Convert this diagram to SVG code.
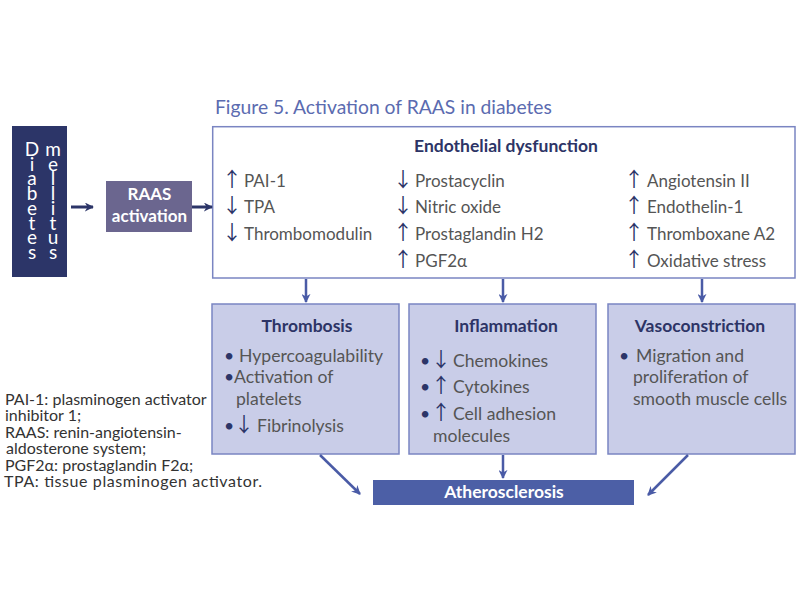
<svg xmlns="http://www.w3.org/2000/svg" width="800" height="600" viewBox="0 0 800 600">
<defs>
<style>
text{font-family:Lato,"Open Sans","Liberation Sans",sans-serif;}
.t{font-size:17px;fill:#555555;}
.t2{font-size:17.6px;fill:#555555;}
.ar{font-family:"Noto Sans CJK JP","DejaVu Sans",sans-serif;fill:#2c3568;font-size:20px;}
.bu{fill:#2c3568;}
.h{font-size:17.5px;font-weight:bold;fill:#2d3466;text-anchor:middle;}
.lg{font-size:16px;fill:#333333;}
.dm{font-size:19px;fill:#ffffff;writing-mode:vertical-rl;text-orientation:upright;letter-spacing:-8.3px;}
.box{fill:#c9cde8;stroke:#7a85c2;stroke-width:1.5;}
.con{stroke:#4a5ba6;stroke-width:2.5;fill:none;marker-end:url(#ah);}
.con2{stroke:#2c3568;stroke-width:3;fill:none;marker-end:url(#ah2);}
</style>
<marker id="ah" viewBox="0 0 10 10" refX="9" refY="5" markerWidth="9" markerHeight="9" markerUnits="userSpaceOnUse" orient="auto">
<path d="M0,0 L10,5 L0,10 L3,5 z" fill="#4a5ba6"/>
</marker>
<marker id="ah2" viewBox="0 0 10 10" refX="9" refY="5" markerWidth="9" markerHeight="9" markerUnits="userSpaceOnUse" orient="auto">
<path d="M0,0 L10,5 L0,10 L3,5 z" fill="#2c3568"/>
</marker>
</defs>
<rect width="800" height="600" fill="#ffffff"/>

<text x="215" y="114" style="font-size:19.3px;fill:#5b6bb0;">Figure 5. Activation of RAAS in diabetes</text>

<g id="diabetes">
<rect x="12" y="126" width="55" height="151" fill="#2c3568"/>
<text class="dm" x="32" y="137">Diabetes</text>
<text class="dm" x="53" y="137">mellitus</text>
</g>

<g id="raas">
<rect x="106" y="181" width="86" height="51" fill="#6b668f"/>
<text x="149.5" y="200" style="font-size:17px;font-weight:bold;fill:#ffffff;text-anchor:middle;">RAAS</text>
<text x="149.5" y="222" style="font-size:17px;font-weight:bold;fill:#ffffff;text-anchor:middle;">activation</text>
</g>

<g id="endothelial">
<rect x="212.7" y="126.7" width="582.3" height="151.3" fill="#ffffff" stroke="#7a85c2" stroke-width="1.5"/>
<text class="h" x="506" y="152">Endothelial dysfunction</text>
<text class="t" x="222" y="186.5"><tspan class="ar">↑</tspan><tspan x="244">PAI-1</tspan></text>
<text class="t" x="222" y="213.2"><tspan class="ar">↓</tspan><tspan x="244">TPA</tspan></text>
<text class="t" x="222" y="239.9"><tspan class="ar">↓</tspan><tspan x="244">Thrombomodulin</tspan></text>
<text class="t" x="393" y="186.5"><tspan class="ar">↓</tspan><tspan x="415">Prostacyclin</tspan></text>
<text class="t" x="393" y="213.2"><tspan class="ar">↓</tspan><tspan x="415">Nitric oxide</tspan></text>
<text class="t" x="393" y="239.9"><tspan class="ar">↑</tspan><tspan x="415">Prostaglandin H2</tspan></text>
<text class="t" x="393" y="266.6"><tspan class="ar">↑</tspan><tspan x="415">PGF2α</tspan></text>
<text class="t" x="624" y="186.5"><tspan class="ar">↑</tspan><tspan x="647">Angiotensin II</tspan></text>
<text class="t" x="624" y="213.2"><tspan class="ar">↑</tspan><tspan x="647">Endothelin-1</tspan></text>
<text class="t" x="624" y="239.9"><tspan class="ar">↑</tspan><tspan x="647">Thromboxane A2</tspan></text>
<text class="t" x="624" y="266.6"><tspan class="ar">↑</tspan><tspan x="647">Oxidative stress</tspan></text>
</g>

<g id="thrombosis">
<rect class="box" x="212" y="304" width="187" height="150"/>
<text class="h" x="307" y="332">Thrombosis</text>
<text class="t2" x="224" y="362"><tspan class="bu">•</tspan><tspan x="239">Hypercoagulability</tspan></text>
<text class="t2" x="224" y="383"><tspan class="bu">•</tspan><tspan x="234">Activation of</tspan></text>
<text class="t2" x="236" y="405">platelets</text>
<text class="t2" x="224" y="432"><tspan class="bu">•</tspan><tspan class="ar" x="234">↓</tspan><tspan x="257">Fibrinolysis</tspan></text>
</g>

<g id="inflammation">
<rect class="box" x="409" y="304" width="187" height="150"/>
<text class="h" x="506" y="332">Inflammation</text>
<text class="t2" x="420" y="367"><tspan class="bu">•</tspan><tspan class="ar" x="431">↓</tspan><tspan x="453">Chemokines</tspan></text>
<text class="t2" x="420" y="393"><tspan class="bu">•</tspan><tspan class="ar" x="431">↑</tspan><tspan x="453">Cytokines</tspan></text>
<text class="t2" x="420" y="420"><tspan class="bu">•</tspan><tspan class="ar" x="431">↑</tspan><tspan x="453">Cell adhesion</tspan></text>
<text class="t2" x="433" y="442">molecules</text>
</g>

<g id="vasoconstriction">
<rect class="box" x="608" y="304" width="187" height="150"/>
<text class="h" x="700" y="332">Vasoconstriction</text>
<text class="t2" x="619" y="362"><tspan class="bu">•</tspan><tspan x="636">Migration and</tspan></text>
<text class="t2" x="633" y="383">proliferation of</text>
<text class="t2" x="633" y="405">smooth muscle cells</text>
</g>

<g id="atherosclerosis">
<rect x="373" y="480" width="261" height="25" fill="#4c5fa6"/>
<text x="504" y="498" style="font-size:17.5px;font-weight:bold;fill:#ffffff;text-anchor:middle;">Atherosclerosis</text>
</g>

<g id="connectors">
<line class="con2" x1="71" y1="207" x2="93" y2="207"/>
<line class="con2" x1="192" y1="207" x2="212" y2="207"/>
<line class="con" x1="306" y1="279" x2="306" y2="302"/>
<line class="con" x1="503" y1="279" x2="503" y2="302"/>
<line class="con" x1="702" y1="279" x2="702" y2="302"/>
<line class="con" x1="503" y1="455" x2="503" y2="478"/>
<line class="con" x1="320" y1="455" x2="360" y2="494"/>
<line class="con" x1="688" y1="455" x2="648" y2="495"/>
</g>

<g id="legend">
<text class="lg" x="5" y="405">PAI-1: plasminogen activator</text>
<text class="lg" x="5" y="421.4">inhibitor 1;</text>
<text class="lg" x="5" y="437.8">RAAS: renin-angiotensin-</text>
<text class="lg" x="6" y="454.2">aldosterone system;</text>
<text class="lg" x="5" y="470.6">PGF2α: prostaglandin F2α;</text>
<text class="lg" x="4" y="487" textLength="258" lengthAdjust="spacing">TPA: tissue plasminogen activator.</text>
</g>
</svg>
